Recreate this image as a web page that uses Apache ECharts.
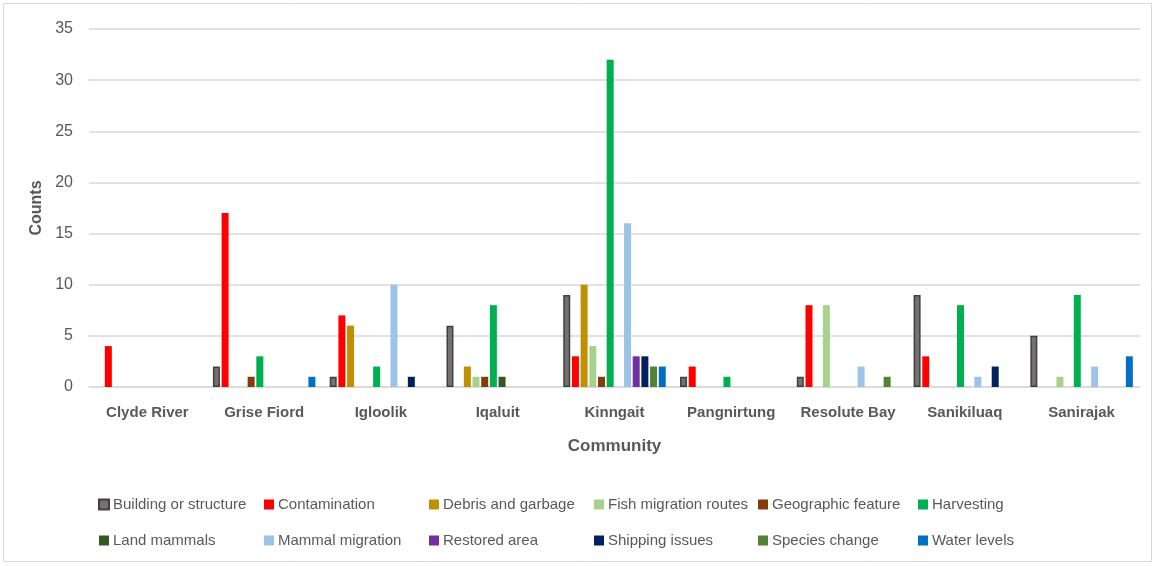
<!DOCTYPE html>
<html>
<head>
<meta charset="utf-8">
<script src="https://cdn.jsdelivr.net/npm/echarts@6/dist/echarts.min.js"></script>
<style>
html,body{margin:0;padding:0;background:#fff;}
#chart{width:1156px;height:566px;}
</style>
</head>
<body>
<div id="chart"></div>
<script>
// Communities on the category axis
const communities = ['Clyde River', 'Grise Fiord', 'Igloolik', 'Iqaluit', 'Kinngait', 'Pangnirtung', 'Resolute Bay', 'Sanikiluaq', 'Sanirajak'];

// Counts per theme, one value per community
const buildingOrStructure = [0, 2, 1, 6, 9, 1, 1, 9, 5];
const contamination       = [4, 17, 7, 0, 3, 2, 8, 3, 0];
const debrisAndGarbage    = [0, 0, 6, 2, 10, 0, 0, 0, 0];
const fishMigrationRoutes = [0, 0, 0, 1, 4, 0, 8, 0, 1];
const geographicFeature   = [0, 1, 0, 1, 1, 0, 0, 0, 0];
const harvesting          = [0, 3, 2, 8, 32, 1, 0, 8, 9];
const landMammals         = [0, 0, 0, 1, 0, 0, 0, 0, 0];
const mammalMigration     = [0, 0, 10, 0, 16, 0, 2, 1, 2];
const restoredArea        = [0, 0, 0, 0, 3, 0, 0, 0, 0];
const shippingIssues      = [0, 0, 1, 0, 3, 0, 0, 2, 0];
const speciesChange       = [0, 0, 0, 0, 2, 0, 1, 0, 0];
const waterLevels         = [0, 1, 0, 0, 2, 0, 0, 0, 3];

const yTicks = [0, 5, 10, 15, 20, 25, 30, 35];

const seriesDefs = [
  { name: 'Building or structure', data: buildingOrStructure, color: '#767171', border: '#404040' },
  { name: 'Contamination',         data: contamination,       color: '#FF0000' },
  { name: 'Debris and garbage',    data: debrisAndGarbage,    color: '#BF9000' },
  { name: 'Fish migration routes', data: fishMigrationRoutes, color: '#A9D18E' },
  { name: 'Geographic feature',    data: geographicFeature,   color: '#843C0C' },
  { name: 'Harvesting',            data: harvesting,          color: '#00B050' },
  { name: 'Land mammals',          data: landMammals,         color: '#375623' },
  { name: 'Mammal migration',      data: mammalMigration,     color: '#9DC3E6' },
  { name: 'Restored area',         data: restoredArea,        color: '#7030A0' },
  { name: 'Shipping issues',       data: shippingIssues,      color: '#002060' },
  { name: 'Species change',        data: speciesChange,       color: '#548235' },
  { name: 'Water levels',          data: waterLevels,         color: '#0070C0' }
];

const textColor = '#595959';
const font = 'Liberation Sans';

// Zero counts are left empty so no outline is drawn on the baseline
const series = seriesDefs.map(s => ({
  name: s.name,
  type: 'bar',
  data: s.data.map(v => (v === 0 ? '-' : v)),
  barWidth: 7,
  barGap: '24%',
  itemStyle: {
    color: s.color,
    borderColor: s.border || s.color,
    borderWidth: s.border ? 1.5 : 0
  }
}));

// Legend laid out in six columns of two rows each
const legendCols = [93, 259, 424, 589, 753, 913];
const legends = legendCols.map((x, i) => ({
  left: x,
  top: 492,
  orient: 'vertical',
  itemWidth: 10,
  itemHeight: 10,
  itemGap: 21,
  icon: 'rect',
  data: [seriesDefs[i].name, seriesDefs[i + 6].name],
  textStyle: { color: textColor, fontSize: 15, fontFamily: font, padding: [0, 0, 0, -1] },
  selectedMode: false
}));

const chart = echarts.init(document.getElementById('chart'), null, { renderer: 'canvas' });
chart.setOption({
  animation: false,
  backgroundColor: '#fff',
  textStyle: { fontFamily: font },
  grid: { left: 89, right: 16, top: 29, bottom: 179 },
  legend: legends,
  graphic: [{
    type: 'rect',
    shape: { x: 3.5, y: 3.5, width: 1148, height: 558 },
    style: { fill: 'none', stroke: '#d9d9d9', lineWidth: 1 },
    silent: true
  }],
  xAxis: {
    type: 'category',
    data: communities,
    name: 'Community',
    nameLocation: 'middle',
    nameGap: 51,
    nameTextStyle: { color: textColor, fontSize: 17, fontWeight: 'bold', fontFamily: font },
    axisLine: { show: true, lineStyle: { color: '#d9d9d9', width: 1.5 } },
    axisTick: { show: false },
    axisLabel: { interval: 0, color: textColor, fontSize: 15, fontWeight: 'bold', margin: 18, fontFamily: font }
  },
  yAxis: {
    type: 'value',
    min: yTicks[0],
    max: yTicks[yTicks.length - 1],
    interval: 5,
    name: 'Counts',
    nameLocation: 'middle',
    nameGap: 36,
    nameTextStyle: { color: textColor, fontSize: 16, fontWeight: 'bold', fontFamily: font },
    axisLine: { show: false },
    axisTick: { show: false },
    axisLabel: { color: textColor, fontSize: 16, margin: 16, fontFamily: font },
    splitLine: { lineStyle: { color: '#d9d9d9', width: 1.5 } }
  },
  series: series
});
</script>
</body>
</html>
